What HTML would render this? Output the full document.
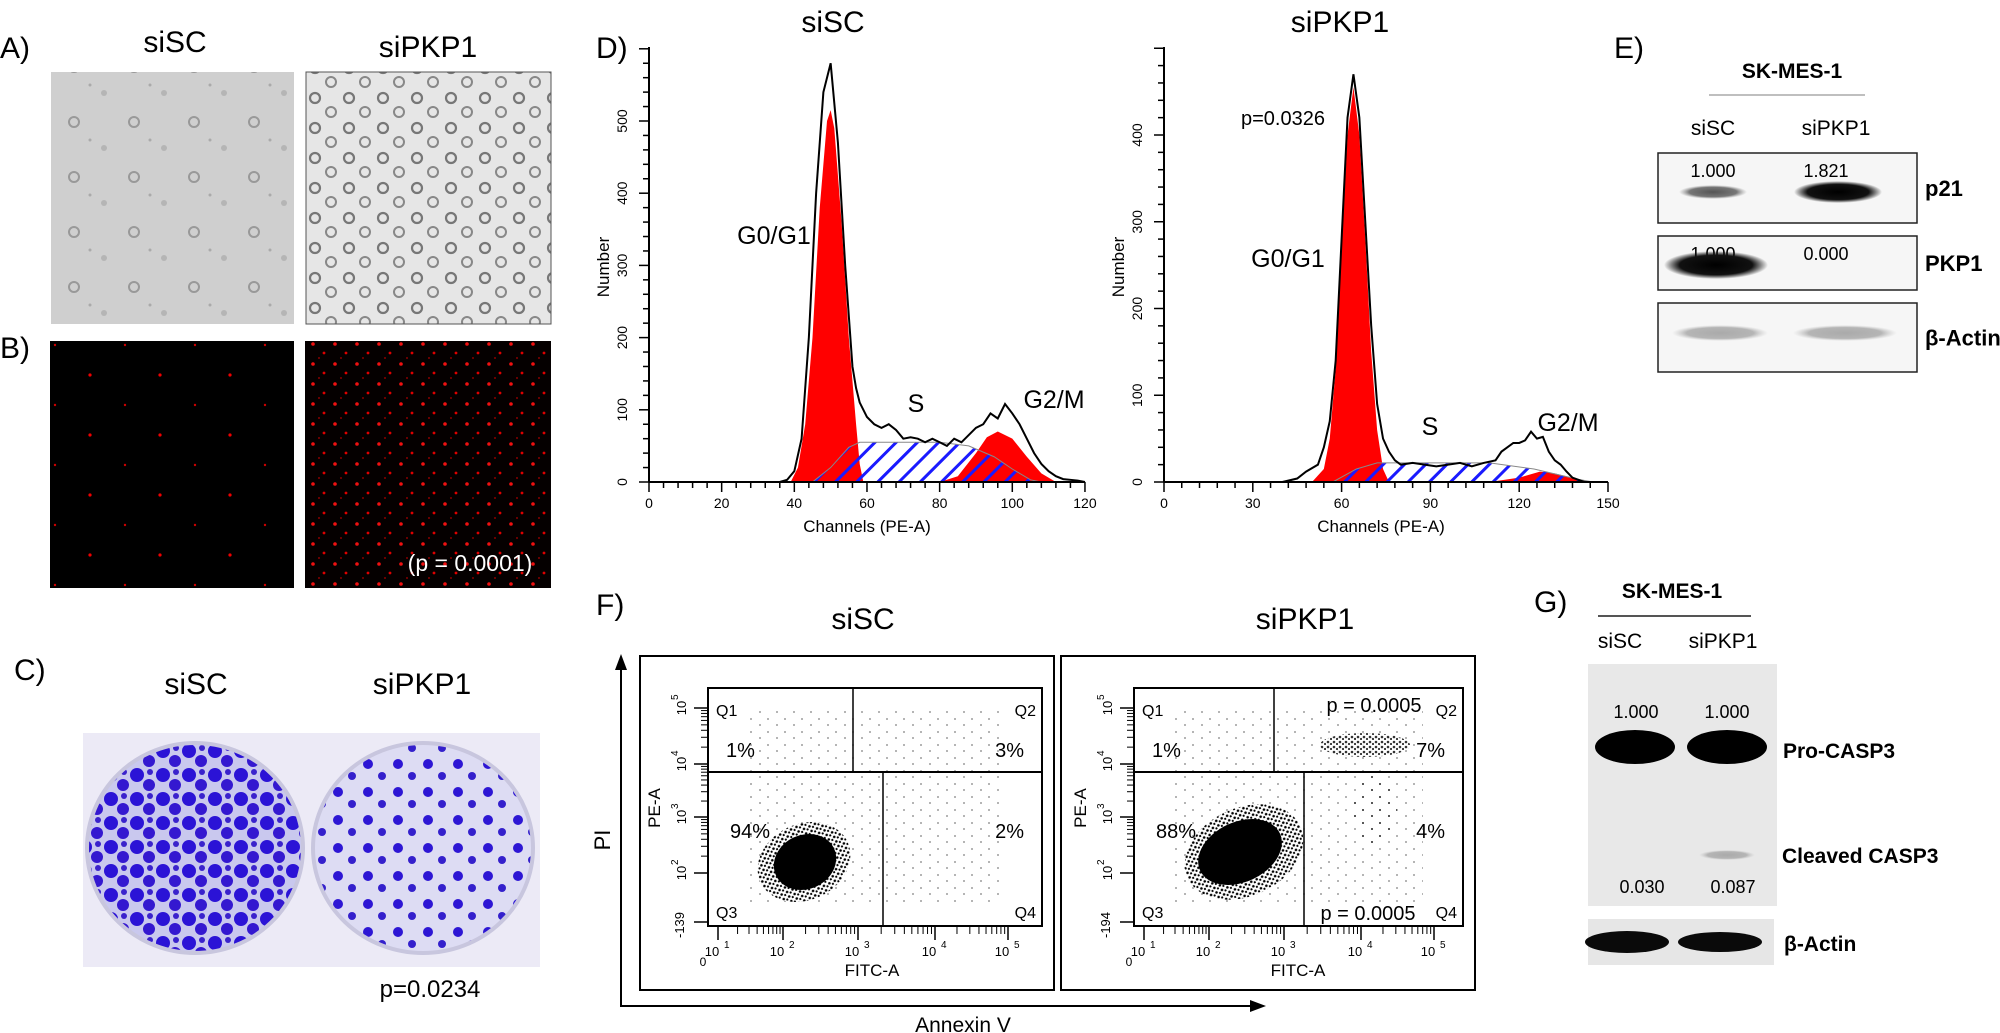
<!DOCTYPE html>
<html><head><meta charset="utf-8"><title>Figure</title>
<style>
html,body{margin:0;padding:0;background:#fff;}
svg{display:block;font-family:"Liberation Sans",Arial,sans-serif;}
.t{font-size:30px;text-anchor:middle;}
.lbl{font-size:30px;}
.bl{font-weight:bold;font-size:21px;}
</style></head>
<body>
<svg id="fig" width="2000" height="1033" viewBox="0 0 2000 1033" xmlns="http://www.w3.org/2000/svg">
<defs>
  <pattern id="cellsL" width="60" height="55" patternUnits="userSpaceOnUse">
    <rect width="60" height="55" fill="#cfcfcf"/>
    <circle cx="14" cy="12" r="5" fill="none" stroke="#999" stroke-width="2"/>
    <circle cx="44" cy="38" r="3" fill="#b5b5b5"/>
    <circle cx="30" cy="30" r="1.5" fill="#aaa"/>
  </pattern>
  <pattern id="cellsR" width="34" height="30" patternUnits="userSpaceOnUse">
    <rect width="34" height="30" fill="#e6e6e6"/>
    <circle cx="9" cy="8" r="5" fill="none" stroke="#777" stroke-width="2.2"/>
    <circle cx="25" cy="22" r="5" fill="none" stroke="#888" stroke-width="2"/>
  </pattern>
  <pattern id="redL" width="70" height="60" patternUnits="userSpaceOnUse">
    <rect width="70" height="60" fill="#000"/>
    <circle cx="20" cy="15" r="1.6" fill="#e00"/>
    <circle cx="55" cy="45" r="1.2" fill="#c00"/>
  </pattern>
  <pattern id="redR" width="22" height="20" patternUnits="userSpaceOnUse">
    <rect width="22" height="20" fill="#050000"/>
    <circle cx="5" cy="4" r="1.8" fill="#f01010"/>
    <circle cx="16" cy="13" r="1.4" fill="#d00"/>
    <circle cx="11" cy="18" r="0.9" fill="#a00"/>
  </pattern>
  <pattern id="colL" width="26" height="24" patternUnits="userSpaceOnUse">
    <rect width="26" height="24" fill="#c9c8ee"/>
    <circle cx="7" cy="7" r="7" fill="#2b13d6"/>
    <circle cx="19" cy="17" r="6" fill="#3418d0"/>
    <circle cx="20" cy="4" r="3" fill="#3a22cc"/>
  </pattern>
  <pattern id="colR" width="30" height="28" patternUnits="userSpaceOnUse">
    <rect width="30" height="28" fill="#dddcf3"/>
    <circle cx="8" cy="8" r="5" fill="#2d16d4"/>
    <circle cx="22" cy="20" r="4" fill="#3420cc"/>
  </pattern>
  <pattern id="hatch" width="15" height="15" patternUnits="userSpaceOnUse" patternTransform="rotate(45)">
    <rect width="15" height="15" fill="none"/>
    <rect x="0" y="0" width="3" height="15" fill="#1a1aff"/>
  </pattern>
  <pattern id="sparse" width="17" height="13" patternUnits="userSpaceOnUse">
    <circle cx="3" cy="4" r="0.9" fill="#000"/>
    <circle cx="12" cy="10" r="0.9" fill="#000"/>
  </pattern>
  <pattern id="dense" width="6" height="5" patternUnits="userSpaceOnUse">
    <rect width="6" height="5" fill="#fff"/>
    <circle cx="2" cy="2" r="1.3" fill="#000"/>
    <circle cx="5" cy="4" r="1.1" fill="#000"/>
  </pattern>
  <radialGradient id="bandG"><stop offset="0" stop-color="#000"/><stop offset="0.7" stop-color="#111"/><stop offset="1" stop-color="#000" stop-opacity="0"/></radialGradient>
  <radialGradient id="bandF"><stop offset="0" stop-color="#555"/><stop offset="0.7" stop-color="#777"/><stop offset="1" stop-color="#999" stop-opacity="0"/></radialGradient>
  <radialGradient id="bandA"><stop offset="0" stop-color="#aaa"/><stop offset="0.7" stop-color="#b5b5b5"/><stop offset="1" stop-color="#ccc" stop-opacity="0"/></radialGradient>
</defs>

<!-- Panel A / B -->
<text class="lbl" x="0" y="58">A)</text>
<text class="t" x="175" y="52">siSC</text>
<text class="t" x="428" y="57">siPKP1</text>
<rect x="51" y="72" width="243" height="252" fill="url(#cellsL)"/>
<rect x="306" y="72" width="245" height="252" fill="url(#cellsR)" stroke="#555" stroke-width="1"/>
<text class="lbl" x="0" y="358">B)</text>
<rect x="50" y="341" width="244" height="247" fill="url(#redL)"/>
<rect x="305" y="341" width="246" height="247" fill="url(#redR)"/>
<text x="470" y="571" fill="#fff" font-size="23" text-anchor="middle">(p = 0.0001)</text>

<!-- Panel C -->
<text class="lbl" x="14" y="680">C)</text>
<text class="t" x="196" y="694">siSC</text>
<text class="t" x="422" y="694">siPKP1</text>
<rect x="83" y="733" width="457" height="234" fill="#eceaf6"/>
<ellipse cx="195" cy="848" rx="108" ry="105" fill="url(#colL)" stroke="#c8c6de" stroke-width="4"/>
<ellipse cx="423" cy="848" rx="110" ry="105" fill="url(#colR)" stroke="#c8c6de" stroke-width="4"/>
<text x="430" y="997" font-size="24" text-anchor="middle">p=0.0234</text>

<!-- Panel D -->
<text class="lbl" x="596" y="58">D)</text>
<text class="t" x="833" y="32">siSC</text>
<text class="t" x="1340" y="32">siPKP1</text>
<g id="hist1"></g>
<g id="hist2"></g>
<text x="774" y="244" font-size="25" text-anchor="middle">G0/G1</text>
<text x="916" y="412" font-size="25" text-anchor="middle">S</text>
<text x="1054" y="408" font-size="25" text-anchor="middle">G2/M</text>
<text x="1283" y="125" font-size="20" text-anchor="middle">p=0.0326</text>
<text x="1288" y="267" font-size="25" text-anchor="middle">G0/G1</text>
<text x="1430" y="435" font-size="25" text-anchor="middle">S</text>
<text x="1568" y="431" font-size="25" text-anchor="middle">G2/M</text>

<!-- Panel E -->
<text class="lbl" x="1614" y="58">E)</text>
<text class="bl" x="1792" y="78" text-anchor="middle">SK-MES-1</text>
<line x1="1709" y1="95" x2="1865" y2="95" stroke="#aaa" stroke-width="1.5"/>
<text x="1713" y="135" font-size="21" text-anchor="middle">siSC</text>
<text x="1836" y="135" font-size="21" text-anchor="middle">siPKP1</text>
<g id="blotE"></g>

<!-- Panel F -->
<text class="lbl" x="596" y="615">F)</text>
<text class="t" x="863" y="629">siSC</text>
<text class="t" x="1305" y="629">siPKP1</text>
<g id="flow"></g>
<line x1="621" y1="1007" x2="621" y2="668" stroke="#000" stroke-width="2"/>
<polygon points="621,654 615,670 627,670" fill="#000"/>
<line x1="620" y1="1006" x2="1252" y2="1006" stroke="#000" stroke-width="2"/>
<polygon points="1266,1006 1250,1000 1250,1012" fill="#000"/>
<text x="610" y="840" font-size="22" text-anchor="middle" transform="rotate(-90 610 840)">PI</text>
<text x="963" y="1032" font-size="21" text-anchor="middle">Annexin V</text>

<!-- Panel G -->
<text class="lbl" x="1534" y="612">G)</text>
<text class="bl" x="1672" y="598" text-anchor="middle">SK-MES-1</text>
<line x1="1598" y1="616" x2="1751" y2="616" stroke="#555" stroke-width="2"/>
<text x="1620" y="648" font-size="21" text-anchor="middle">siSC</text>
<text x="1723" y="648" font-size="21" text-anchor="middle">siPKP1</text>
<g id="blotG"></g>
</svg>

<script>
// ---------- Panel D histogram data (channel, count) ----------
const h1Channels = [36,38,40,42,44,46,48,50,52,54,56,57,58,60,62,64,66,68,70,72,74,76,78,80,82,84,86,88,90,92,94,96,98,100,102,104,106,108,110,112,114,118,120];
const h1Total    = [0,3,15,60,200,400,540,580,470,300,160,130,110,90,80,75,80,72,60,62,60,55,60,55,50,60,55,65,75,80,95,88,108,95,80,60,40,25,15,8,4,2,0];
const h1G1Ch  = [39,41,43,45,47,49,50,51,53,55,57,58,59];
const h1G1    = [0,20,80,200,380,500,515,490,360,200,80,25,0];
const h1SCh   = [45,50,55,58,65,80,88,95,100,105,108];
const h1S     = [0,20,48,55,55,55,50,35,18,3,0];
const h1G2Ch  = [80,85,90,93,96,100,104,108,112];
const h1G2    = [0,8,40,62,70,60,35,12,0];

const h2Channels = [40,45,48,52,54,56,58,60,62,64,66,68,70,72,74,76,78,80,84,88,92,96,100,104,108,112,114,116,118,120,122,124,126,128,130,132,134,136,138,142];
const h2Total    = [0,4,12,20,40,70,140,280,420,470,420,300,180,90,50,35,25,20,22,20,18,20,22,18,22,25,35,40,45,45,48,58,50,52,35,25,20,12,5,0];
const h2G1Ch  = [50,54,56,58,60,62,64,66,68,70,72,74,76];
const h2G1    = [0,15,50,130,270,400,455,400,280,150,60,15,0];
const h2SCh   = [57,65,72,110,125,140,145];
const h2S     = [0,15,22,22,15,3,0];
const h2G2Ch  = [110,120,127,132,140,145];
const h2G2    = [0,5,12,10,3,0];

const h1XTicks = [0,20,40,60,80,100,120];
const h1YTicks = [0,100,200,300,400,500];
const h2XTicks = [0,30,60,90,120,150];
const h2YTicks = [0,100,200,300,400];

// ---------- Panel F quadrant percentages ----------
const flowSamples = ['siSC','siPKP1'];
const q1Pct = ['1%','1%'];
const q2Pct = ['3%','7%'];
const q3Pct = ['94%','88%'];
const q4Pct = ['2%','4%'];
const flowXTickLabels = ['1','2','3','4','5'];
const flowYTickLabels = ['2','3','4','5'];
const flowMinLabels = ['-139','-194'];

// ---------- Blot quantifications ----------
const blotEp21 = ['1.000','1.821'];
const blotEpkp1 = ['1.000','0.000'];
const blotGpro = ['1.000','1.000'];
const blotGcleaved = ['0.030','0.087'];

const NS='http://www.w3.org/2000/svg';
function mk(tag, attrs, parent){const e=document.createElementNS(NS,tag);for(const k in attrs)e.setAttribute(k,attrs[k]);if(parent)parent.appendChild(e);return e;}

function drawHist(g, cfg){
  const sx=v=>cfg.x0+v*cfg.kx, sy=v=>cfg.y0-v*cfg.ky;
  function area(chs, vals){let d='M'+sx(chs[0])+','+sy(0);chs.forEach((c,i)=>{d+='L'+sx(c)+','+sy(vals[i]);});d+='L'+sx(chs[chs.length-1])+','+sy(0)+'Z';return d;}
  function line(chs, vals){return chs.map((c,i)=>(i?'L':'M')+sx(c)+','+sy(vals[i])).join('');}
  let p;
  p=mk('path',{d:area(cfg.g1c,cfg.g1),fill:'#ff0000'},g);
  
  
  p=mk('path',{d:area(cfg.g2c,cfg.g2),fill:'#ff0000'},g);
  
  
  p=mk('path',{d:area(cfg.sc,cfg.s),fill:'url(#hatch)',stroke:'#888','stroke-width':1},g);
  
  
  p=mk('path',{d:line(cfg.tc,cfg.t),fill:'none',stroke:'#000','stroke-width':2},g);
  
  
  // axes
  const ax=mk('g',{},g);
  
  
  const xmax=cfg.xt[cfg.xt.length-1];
  mk('line',{x1:sx(0),y1:sy(0),x2:sx(xmax),y2:sy(0),stroke:'#000','stroke-width':2},ax);
  mk('line',{x1:sx(0),y1:sy(0),x2:sx(0),y2:cfg.top,stroke:'#000','stroke-width':2},ax);
  const step=cfg.xt[1]/5;
  for(let v=0;v<=xmax+0.01;v+=step){mk('line',{x1:sx(v),y1:sy(0),x2:sx(v),y2:sy(0)+(Math.abs(v%cfg.xt[1])<0.01?10:6),stroke:'#000','stroke-width':1.5},ax);}
  cfg.xt.forEach(v=>{const t=mk('text',{x:sx(v),y:sy(0)+26,'font-size':14,'text-anchor':'middle'},ax);t.textContent=v;});
  const ystep=cfg.yt[1]/5;
  for(let v=0;sy(v)>=cfg.top;v+=ystep){mk('line',{x1:sx(0),y1:sy(v),x2:sx(0)-(Math.abs(v%cfg.yt[1])<0.01?10:6),y2:sy(v),stroke:'#000','stroke-width':1.5},ax);}
  cfg.yt.forEach(v=>{const X=sx(0)-22,Y=sy(v);const t=mk('text',{x:X,y:Y,'font-size':14,'text-anchor':'middle',transform:'rotate(-90 '+X+' '+Y+')'},ax);t.textContent=v;});
  let t=mk('text',{x:cfg.x0+cfg.xlabX,y:532,'font-size':17,'text-anchor':'middle'},ax);
  t.textContent='Channels (PE-A)';
  t=mk('text',{x:sx(0)-40,y:267,'font-size':17,'text-anchor':'middle',transform:'rotate(-90 '+(sx(0)-40)+' 267)'},ax);
  t.textContent='Number';
}
drawHist(document.getElementById('hist1'),{x0:649,kx:3.633,y0:482,ky:0.722,top:47,g1c:h1G1Ch,g1:h1G1,g2c:h1G2Ch,g2:h1G2,sc:h1SCh,s:h1S,tc:h1Channels,t:h1Total,xt:h1XTicks,yt:h1YTicks,xlabX:218});
drawHist(document.getElementById('hist2'),{x0:1164,kx:2.96,y0:482,ky:0.8675,top:47,g1c:h2G1Ch,g1:h2G1,g2c:h2G2Ch,g2:h2G2,sc:h2SCh,s:h2S,tc:h2Channels,t:h2Total,xt:h2XTicks,yt:h2YTicks,xlabX:217});

// ---------- Panel F ----------
(function(){
  const flow=document.getElementById('flow');
  flowSamples.forEach((name,i)=>{
    const off=i*421;
    const g=mk('g',{},flow);
    
    
    const ob=mk('rect',{x:640+off,y:656,width:414,height:334,fill:'none',stroke:'#000','stroke-width':2},g);
    
    
    const L=708+off+(i?5:0), R=1042+off, T=688, B=926, gate=772;
    const vu=i?1274:853, vl=i?1304:883;
    const w=R-L;
    // cloud
    const sp=mk('rect',{x:L+40,y:T+20,width:w-80,height:B-T-40,fill:'url(#sparse)',opacity:0.5},g);
    
    
    const cl=mk('ellipse',{cx:i?1244:804,cy:i?852:862,rx:i?62:48,ry:i?44:38,fill:'url(#dense)',transform:'rotate(-25 '+(i?1244:804)+' '+(i?852:862)+')'},g);
    
    
    const cc=mk('ellipse',{cx:i?1240:805,cy:i?852:862,rx:i?44:32,ry:i?30:27,fill:'#000',transform:'rotate(-25 '+(i?1240:805)+' '+(i?852:862)+')'},g);
    
    
    if(i){const a=mk('ellipse',{cx:1365,cy:745,rx:45,ry:12,fill:'url(#dense)',opacity:0.8},g);
      
      
      const b=mk('ellipse',{cx:1375,cy:810,rx:22,ry:35,fill:'url(#sparse)'},g);
      
      }
    const ib=mk('rect',{x:L,y:T,width:w,height:B-T,fill:'none',stroke:'#000','stroke-width':2},g);
    
    
    mk('line',{x1:L,y1:gate,x2:R,y2:gate,stroke:'#000','stroke-width':2},g);
    mk('line',{x1:vu,y1:T,x2:vu,y2:gate,stroke:'#000','stroke-width':1.5},g);
    mk('line',{x1:vl,y1:gate,x2:vl,y2:B,stroke:'#000','stroke-width':1.5},g);
    // axes ticks
    const dec=[L+10,L+75,L+150,L+227,L+300];
    dec.forEach((x,k)=>{mk('line',{x1:x,y1:B,x2:x,y2:B+14,stroke:'#000','stroke-width':1.5},g);
      let t=mk('text',{x:x-6,y:B+30,'font-size':13,'text-anchor':'middle'},g);t.textContent='10';
      t=mk('text',{x:x+6,y:B+22,'font-size':10},g);t.textContent=flowXTickLabels[k];
      if(k<4){for(let m=2;m<10;m++){const xx=x+Math.log10(m)*(dec[k+1]-x);mk('line',{x1:xx,y1:B,x2:xx,y2:B+8,stroke:'#000','stroke-width':1},g);}}});
    let t0=mk('text',{x:L-5,y:B+40,'font-size':12,'text-anchor':'middle'},g);t0.textContent='0';
    const ydec=[873,817,764,708];
    ydec.forEach((y,k)=>{mk('line',{x1:L-14,y1:y,x2:L,y2:y,stroke:'#000','stroke-width':1.5},g);
      const X=L-22;const t=mk('text',{x:X,y:y,'font-size':13,'text-anchor':'middle',transform:'rotate(-90 '+X+' '+y+')'},g);t.textContent='10';
      const t2=mk('text',{x:X-8,y:y-8,'font-size':10,transform:'rotate(-90 '+(X-8)+' '+(y-8)+')'},g);t2.textContent=flowYTickLabels[k];
      if(k<3){for(let m=2;m<10;m++){const yy=y-Math.log10(m)*(y-ydec[k+1]);mk('line',{x1:L-7,y1:yy,x2:L,y2:yy,stroke:'#000','stroke-width':1},g);}}});
    mk('line',{x1:L-14,y1:922,x2:L,y2:922,stroke:'#000','stroke-width':1.5},g);
    const mt=mk('text',{x:L-24,y:925,'font-size':13,'text-anchor':'middle',transform:'rotate(-90 '+(L-24)+' 925)'},g);mt.textContent=flowMinLabels[i];
    const pe=mk('text',{x:L-48,y:808,'font-size':17,'text-anchor':'middle',transform:'rotate(-90 '+(L-48)+' 808)'},g);pe.textContent='PE-A';
    const fx=mk('text',{x:L+164,y:976,'font-size':17,'text-anchor':'middle'},g);fx.textContent='FITC-A';
    const Q=[['Q1',L+8,716,'start'],['Q2',R-6,716,'end'],['Q3',L+8,918,'start'],['Q4',R-6,918,'end']];
    Q.forEach(q=>{const t=mk('text',{x:q[1],y:q[2],'font-size':16,'text-anchor':q[3]},g);t.textContent=q[0];});
    const P=[[q1Pct[i],L+18,757,'start'],[q2Pct[i],R-18,757,'end'],[q3Pct[i],L+22,838,'start'],[q4Pct[i],R-18,838,'end']];
    P.forEach(q=>{const t=mk('text',{x:q[1],y:q[2],'font-size':20,'text-anchor':q[3]},g);t.textContent=q[0];});
    if(i){let t=mk('text',{x:1374,y:712,'font-size':20,'text-anchor':'middle'},g);t.textContent='p = 0.0005';
      t=mk('text',{x:1368,y:920,'font-size':20,'text-anchor':'middle'},g);t.textContent='p = 0.0005';}
  });
})();

// ---------- Blots ----------
function band(g,cx,cy,rx,ry,fill,name){const e=mk('ellipse',{cx:cx,cy:cy,rx:rx,ry:ry,fill:fill},g);}
(function(){
  const g=document.getElementById('blotE');
  const rows=[['p21',153,223,blotEp21],['PKP1',236,290,blotEpkp1],['β-Actin',303,372,null]];
  rows.forEach((r,k)=>{
    const b=mk('rect',{x:1658,y:r[1],width:259,height:r[2]-r[1],fill:'#f6f6f6',stroke:'#222','stroke-width':1.5},g);
    
    
    const l=mk('text',{x:1925,y:(r[1]+r[2])/2+8,'font-size':22,'font-weight':'bold'},g);l.textContent=r[0];
    if(r[3]){[1713,1826].forEach((x,j)=>{const t=mk('text',{x:x,y:r[1]+24,'font-size':18,'text-anchor':'middle'},g);t.textContent=r[3][j];});}
  });
  band(g,1713,192,34,7,'url(#bandF)','p21-band-sisc');
  band(g,1838,192,44,11,'url(#bandG)','p21-band-sipkp1');
  band(g,1716,265,52,14,'url(#bandG)','pkp1-band-sisc');
  band(g,1720,333,48,8,'url(#bandA)','actin-band-sisc');
  band(g,1845,333,52,8,'url(#bandA)','actin-band-sipkp1');
})();
(function(){
  const g=document.getElementById('blotG');
  let b=mk('rect',{x:1588,y:664,width:189,height:242,fill:'#e8e8e8'},g);
  
  
  b=mk('rect',{x:1588,y:919,width:186,height:46,fill:'#e6e6e6'},g);
  
  
  [1636,1727].forEach((x,j)=>{let t=mk('text',{x:x,y:718,'font-size':18,'text-anchor':'middle'},g);t.textContent=blotGpro[j];
    t=mk('text',{x:x+6,y:893,'font-size':18,'text-anchor':'middle'},g);t.textContent=blotGcleaved[j];});
  band(g,1635,747,40,17,'#000','pro-casp3-band-sisc');
  band(g,1727,747,40,17,'#000','pro-casp3-band-sipkp1');
  band(g,1727,855,28,5,'url(#bandA)','cleaved-casp3-band-sipkp1');
  band(g,1627,942,42,11,'#0a0a0a','actin-band-g-sisc');
  band(g,1720,942,42,10,'#0a0a0a','actin-band-g-sipkp1');
  let t=mk('text',{x:1783,y:758,'font-size':21,'font-weight':'bold'},g);t.textContent='Pro-CASP3';
  t=mk('text',{x:1782,y:863,'font-size':21,'font-weight':'bold'},g);t.textContent='Cleaved CASP3';
  t=mk('text',{x:1784,y:951,'font-size':21,'font-weight':'bold'},g);t.textContent='β-Actin';
})();
</script>
</body></html>
